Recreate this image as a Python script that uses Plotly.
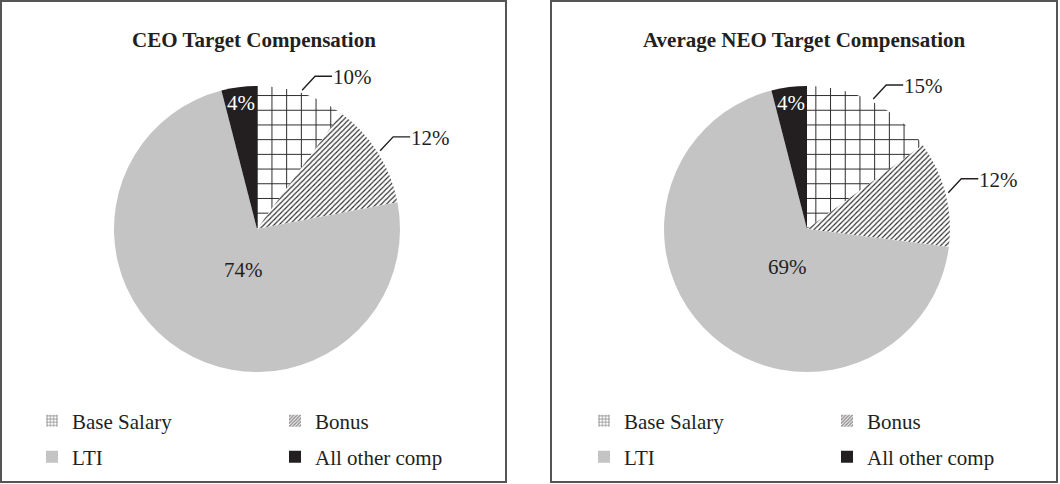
import math
import plotly.graph_objects as go

# ---------------- data ----------------
categories = ["Base Salary", "Bonus", "LTI", "All other comp"]
ceo_values = [10, 12, 74, 4]
neo_values = [15, 12, 69, 4]
titles = ["CEO Target Compensation", "Average NEO Target Compensation"]

# ---------------- style / layout constants ----------------
W, H = 1060, 484
FONT = "Liberation Serif, Times New Roman, serif"
INK = "#231f20"
FS = 21
slice_colors = ["#ffffff", "#ffffff", "#c4c4c4", INK]
pat_shapes = ["+", "/", "", ""]
pat_sizes = [14.7, 3.6, 8, 8]
pat_solid = [0.13, 0.32, 0.3, 0.3]
leg_sizes = [4, 3, 8, 8]
leg_solid = [0.45, 0.6, 0.3, 0.3]

panels = [
    dict(box=(1, 506), cx=257, cy=229, r=143, values=ceo_values, title=titles[0],
         leg_text_x=(70, 313)),
    dict(box=(551, 1057), cx=807, cy=229, r=143, values=neo_values, title=titles[1],
         leg_text_x=(622, 865)),
]
BOX_TOP, BOX_BOT = 1, 482
ROW_Y = (421, 457)


def px(x):
    return x / W


def py(y):
    return 1 - y / H


def polar(p, frac, rr):
    a = 2 * math.pi * frac
    return p["cx"] + rr * math.sin(a), p["cy"] - rr * math.cos(a)


fig = go.Figure()
shapes = []
annotations = []
layout_legends = {}
leg_count = 0

for p in panels:
    vals = p["values"]
    total = float(sum(vals))
    r = p["r"]
    fig.add_trace(go.Pie(
        labels=categories, values=vals, sort=False, direction="clockwise", rotation=0,
        textinfo="none", showlegend=False, hoverinfo="label+percent",
        marker=dict(colors=slice_colors, line=dict(width=0),
                    pattern=dict(shape=pat_shapes, fgcolor="#2a2a2a", size=pat_sizes,
                                 solidity=pat_solid)),
        domain=dict(x=[px(p["cx"] - r), px(p["cx"] + r)],
                    y=[py(p["cy"] + r), py(p["cy"] - r)]),
    ))

    # frame
    shapes.append(dict(type="rect", xref="paper", yref="paper",
                       x0=px(p["box"][0]), x1=px(p["box"][1]), y0=py(BOX_BOT), y1=py(BOX_TOP),
                       line=dict(color="#555555", width=2)))
    # title
    annotations.append(dict(text="<b>" + p["title"] + "</b>", xref="paper", yref="paper",
                            x=px((p["box"][0] + p["box"][1]) / 2), y=py(40),
                            xanchor="center", yanchor="middle", showarrow=False,
                            font=dict(family=FONT, size=FS, color=INK)))

    # labels
    cum = 0.0
    for i, v in enumerate(vals):
        mid = (cum + v / 2) / total
        cum += v
        label = f"{v}%"
        if i < 2:
            sx, sy = polar(p, mid, r * 1.02)
            ex, ey = sx + 13, sy - 14
            fx, fy = ex + 17, ey
            shapes.append(dict(type="path", xref="paper", yref="paper",
                               path=f"M {px(sx)},{py(sy)} L {px(ex)},{py(ey)} L {px(fx)},{py(fy)}",
                               line=dict(color=INK, width=1.4)))
            annotations.append(dict(text=label, xref="paper", yref="paper",
                                    x=px(fx - 1), y=py(fy + 1), xanchor="left", yanchor="middle",
                                    showarrow=False, font=dict(family=FONT, size=FS, color=INK)))
        elif i == 2:
            lx, ly = polar(p, mid - 0.04, r * 0.3)
            annotations.append(dict(text=label, xref="paper", yref="paper",
                                    x=px(lx), y=py(ly), xanchor="center", yanchor="middle",
                                    showarrow=False, font=dict(family=FONT, size=FS, color=INK)))
        else:
            lx, ly = polar(p, mid, r * 0.89)
            annotations.append(dict(text=label, xref="paper", yref="paper",
                                    x=px(lx), y=py(ly), xanchor="center", yanchor="middle",
                                    showarrow=False, font=dict(family=FONT, size=FS, color="#ffffff")))

    # legend entries: one single-item legend per entry, 2 rows x 2 columns
    for i, cat in enumerate(categories):
        leg_count += 1
        leg = "legend" if leg_count == 1 else f"legend{leg_count}"
        fig.add_trace(go.Bar(
            x=[None], y=[None], name=cat, legend=leg, showlegend=True, hoverinfo="skip",
            marker=dict(color=slice_colors[i], line=dict(width=0),
                        pattern=dict(shape=pat_shapes[i], fgcolor=INK, size=leg_sizes[i],
                                     solidity=leg_solid[i])),
        ))
        row, col = i // 2, i % 2
        layout_legends[leg] = dict(
            orientation="v", x=px(p["leg_text_x"][col] - 38), xanchor="left",
            y=py(ROW_Y[row]), yanchor="middle",
            font=dict(family=FONT, size=FS, color=INK), bgcolor="rgba(0,0,0,0)",
            itemclick=False, itemdoubleclick=False,
        )

fig.update_layout(
    width=W, height=H, autosize=False, showlegend=True,
    margin=dict(l=0, r=0, t=0, b=0, pad=0),
    paper_bgcolor="#ffffff", plot_bgcolor="rgba(0,0,0,0)",
    xaxis=dict(visible=False), yaxis=dict(visible=False),
    shapes=shapes, annotations=annotations,
    **layout_legends,
)

fig.write_html(
    "out.html", config={"displayModeBar": False},
    post_script="document.body.style.margin='0px';"
                "document.documentElement.style.overflow='hidden';"
                "document.body.style.overflow='hidden';",
)
